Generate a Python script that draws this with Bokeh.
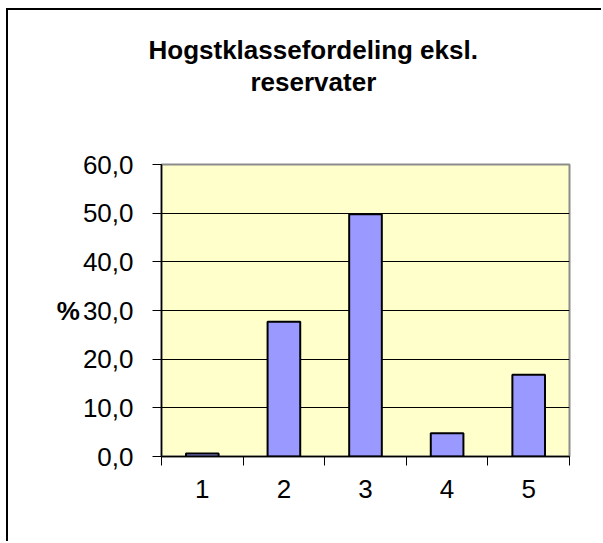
from bokeh.plotting import figure
from bokeh.models import Range1d, FixedTicker, Title
from bokeh.embed import file_html
from bokeh.resources import INLINE

# ---- data ----
categories = [1, 2, 3, 4, 5]
values = [0.6, 27.7, 49.8, 4.8, 16.8]
y_ticks = [0, 10, 20, 30, 40, 50, 60]
y_tick_labels = ["0,0", "10,0", "20,0", "30,0", "40,0", "50,0", "60,0"]
x_tick_labels = ["1", "2", "3", "4", "5"]
title_lines = ["Hogstklassefordeling eksl.", "reservater"]
y_label = "%"

FONT = "Liberation Sans"

p = figure(width=595, height=533, output_backend="svg", toolbar_location=None,
           x_range=Range1d(0.5, 5.5), y_range=Range1d(0, 60),
           min_border_left=153, min_border_right=34,
           min_border_top=154, min_border_bottom=87,
           background_fill_color="#FFFFCC", border_fill_color="white")
p.margin = (8, 0, 0, 6)
p.styles = {"border-left": "2px solid black", "border-top": "2px solid black"}

p.outline_line_color = "#8c8c8c"
p.outline_line_width = 2

p.vbar(x=categories, top=values, width=0.4, fill_color="#9999FF",
       line_color="black", line_width=2)

# grid
p.xgrid.visible = False
p.ygrid.ticker = FixedTicker(ticks=y_ticks)
p.ygrid.grid_line_color = "black"
p.ygrid.grid_line_width = 1

# y axis
ya = p.yaxis[0]
ya.ticker = FixedTicker(ticks=y_ticks)
ya.major_label_overrides = dict(zip(y_ticks, y_tick_labels))
ya.major_tick_out = 9
ya.major_tick_in = 0
ya.minor_tick_out = 0
ya.minor_tick_in = 0
ya.major_tick_line_color = "black"
ya.axis_line_color = "black"
ya.axis_line_width = 1.5
ya.major_label_text_font = FONT
ya.major_label_text_font_size = "26px"
ya.major_label_text_color = "black"
ya.major_label_standoff = 19
ya.axis_label = y_label
ya.axis_label_orientation = "horizontal"
ya.axis_label_text_font = FONT
ya.axis_label_text_font_size = "26px"
ya.axis_label_text_font_style = "bold"
ya.axis_label_text_color = "black"
ya.axis_label_standoff = 0

# x axis
xa = p.xaxis[0]
xa.ticker = FixedTicker(ticks=categories,
                        minor_ticks=[c - 0.5 for c in categories] + [categories[-1] + 0.5])
xa.major_label_overrides = dict(zip(categories, x_tick_labels))
xa.major_tick_out = 0
xa.major_tick_in = 0
xa.minor_tick_out = 9
xa.minor_tick_in = 0
xa.minor_tick_line_color = "black"
xa.axis_line_color = "black"
xa.axis_line_width = 1.5
xa.major_label_text_font = FONT
xa.major_label_text_font_size = "26px"
xa.major_label_text_color = "black"
xa.major_label_standoff = 14

# spacer between the frame and the title block
p.add_layout(Title(text="\u00a0", standoff=36, text_font=FONT,
                   text_font_size="26px", text_line_height=1.0), "above")

# title: second line added first (closer to the frame)
title_offsets = [-13, 89]
for line, off in reversed(list(zip(title_lines, title_offsets))):
    p.add_layout(Title(text=line, align="left", offset=off, standoff=0,
                       text_font=FONT, text_font_size="26px",
                       text_font_style="bold", text_color="black",
                       text_line_height=1.0), "above")

open("out.html", "w").write(file_html(p, INLINE))
